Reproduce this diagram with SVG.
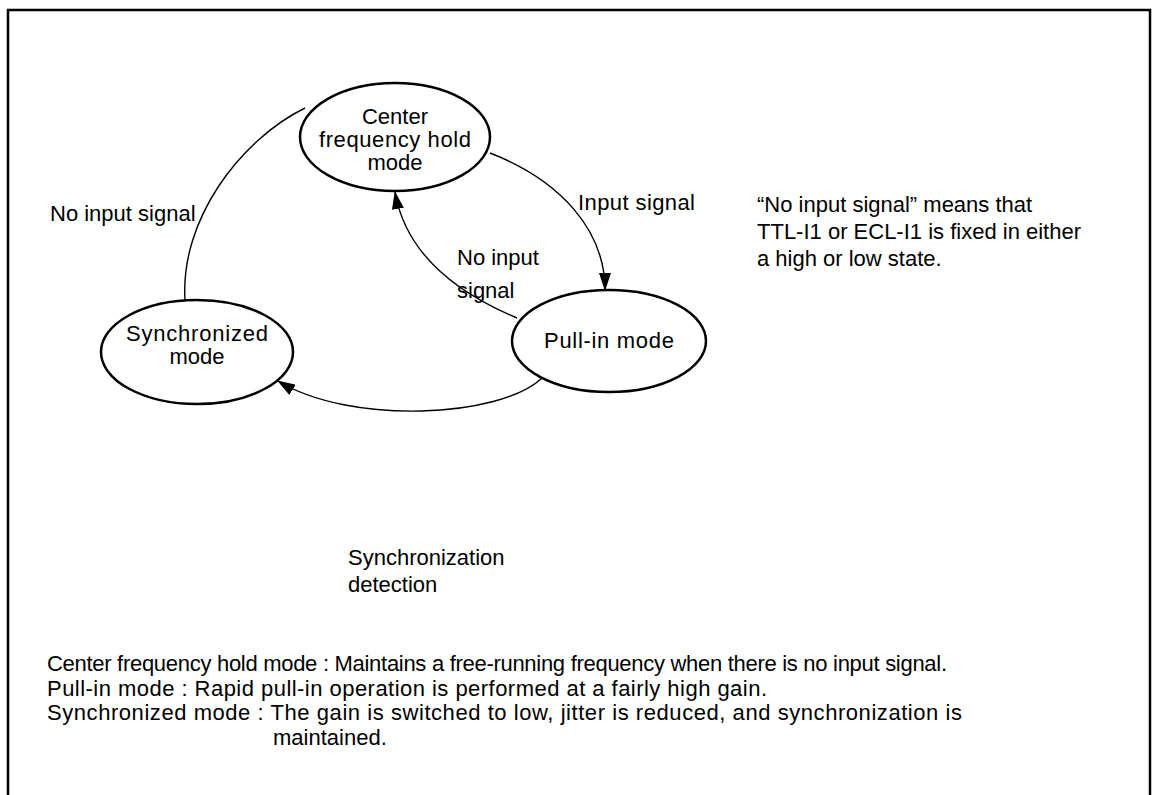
<svg xmlns="http://www.w3.org/2000/svg" width="1153" height="795" viewBox="0 0 1153 795">
<style>
text{font-family:"Liberation Sans",Arial,sans-serif;font-size:22px;fill:#000}
.n{text-anchor:middle}
.node{fill:#fff;stroke:#000;stroke-width:2.5}
.conn{fill:none;stroke:#000;stroke-width:1.4}
.frame{fill:none;stroke:#000;stroke-width:2.5}
</style>
<defs>
<marker id="ah" markerUnits="userSpaceOnUse" markerWidth="18" markerHeight="12" refX="17" refY="6" orient="auto">
<path d="M0,0 L18,6 L0,12 z" fill="#000"/>
</marker>
</defs>
<rect width="1153" height="795" fill="#fff"/>
<path class="frame" d="M8,795 V10 H1150 V795"/>
<g id="connectors">
<path class="conn" d="M490,153 C560,180 605,230 605,290" marker-end="url(#ah)"/>
<path class="conn" d="M517,318 C450,290 405,250 395,192" marker-end="url(#ah)"/>
<path class="conn" d="M185,300 C180,220 240,140 305,108"/>
<path class="conn" d="M542,378 C500,418 350,425 278,381" marker-end="url(#ah)"/>
</g>
<g id="center">
<ellipse class="node" cx="395" cy="137" rx="95" ry="54"/>
<text class="n" x="395" y="124">Center</text>
<text class="n" x="395" y="147" textLength="152">frequency hold</text>
<text class="n" x="395" y="170">mode</text>
</g>
<g id="pullin">
<ellipse class="node" cx="609" cy="341" rx="97" ry="51"/>
<text class="n" x="609" y="348" textLength="130">Pull-in mode</text>
</g>
<g id="sync">
<ellipse class="node" cx="197" cy="352" rx="96" ry="52"/>
<text class="n" x="197" y="341" textLength="142">Synchronized</text>
<text class="n" x="197" y="364">mode</text>
</g>
<g id="labels">
<text x="50" y="221">No input signal</text>
<text x="578" y="210" textLength="117">Input signal</text>
<text x="457" y="265">No input</text>
<text x="457" y="298">signal</text>
<text x="348" y="565">Synchronization</text>
<text x="348" y="592">detection</text>
<text x="757" y="212">“No input signal” means that</text>
<text x="757" y="239">TTL-I1 or ECL-I1 is fixed in either</text>
<text x="757" y="266">a high or low state.</text>
<text x="47" y="671" textLength="900">Center frequency hold mode : Maintains a free-running frequency when there is no input signal.</text>
<text x="47" y="696" textLength="720">Pull-in mode : Rapid pull-in operation is performed at a fairly high gain.</text>
<text x="47" y="720" textLength="915">Synchronized mode : The gain is switched to low, jitter is reduced, and synchronization is</text>
<text x="273" y="745">maintained.</text>
</g>
</svg>
